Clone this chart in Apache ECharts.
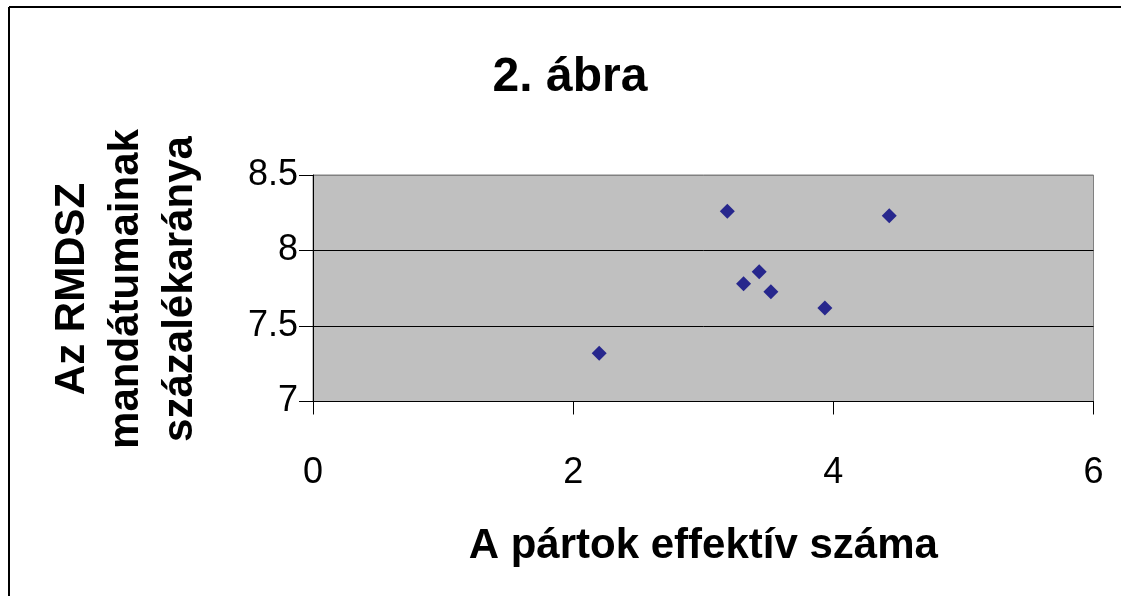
<!DOCTYPE html>
<html>
<head>
<meta charset="utf-8">
<script src="https://cdn.jsdelivr.net/npm/echarts@6/dist/echarts.min.js"></script>
<style>
  html, body { margin: 0; padding: 0; background: #fff; }
  #chart { width: 1121px; height: 596px; }
</style>
</head>
<body>
<div id="chart"></div>
<script>
// pontok: a pártok effektív száma / RMDSZ mandátumainak aránya
const partokSzama = [2.20, 3.185, 3.31, 3.43, 3.52, 3.935, 4.43]
const mandatumArany = [7.32, 8.26, 7.78, 7.86, 7.727, 7.62, 8.23]
const xTicks = [0, 2, 4, 6]
const yTicks = [7, 7.5, 8, 8.5]

const FONT = 'Liberation Sans, Arial, sans-serif'

var dom = document.getElementById('chart')
var myChart = echarts.init(dom, null, { renderer: 'canvas' })

let points = []
for (let i = 0; i < partokSzama.length; i++) {
    points.push([partokSzama[i], mandatumArany[i]])
}

var option = {
    backgroundColor: '#fff',
    animation: false,
    title: {
        text: '2. ábra',
        left: 570,
        top: 54,
        textAlign: 'center',
        padding: 0,
        textStyle: { fontFamily: FONT, fontSize: 48, fontWeight: 'bold', color: '#000' }
    },
    graphic: [
        // keret: csak a bal és a felső éle látszik
        {
            type: 'line',
            shape: { x1: 9, y1: 7, x2: 1121, y2: 7 },
            style: { stroke: '#000', lineWidth: 2 },
            silent: true
        },
        {
            type: 'line',
            shape: { x1: 9, y1: 7, x2: 9, y2: 596 },
            style: { stroke: '#000', lineWidth: 2 },
            silent: true
        },
        {
            type: 'text',
            x: 126,
            y: 289,
            rotation: Math.PI / 2,
            style: {
                text: 'Az RMDSZ\nmandátumainak\nszázalékaránya',
                font: 'bold 42px ' + FONT,
                fill: '#000',
                textAlign: 'center',
                textVerticalAlign: 'middle',
                lineHeight: 54
            }
        }
    ],
    grid: {
        left: 313,
        top: 175,
        right: 27.5,
        bottom: 194.5,
        show: true,
        backgroundColor: '#c0c0c0',
        borderColor: '#808080',
        borderWidth: 1
    },
    xAxis: {
        type: 'value',
        min: xTicks[0],
        max: xTicks[xTicks.length - 1],
        interval: 2,
        name: 'A pártok effektív száma',
        nameLocation: 'middle',
        nameGap: 124,
        nameTextStyle: { fontFamily: FONT, fontSize: 42, fontWeight: 'bold', color: '#000' },
        axisLine: { show: true, onZero: false, lineStyle: { color: '#000', width: 1 } },
        axisTick: { show: true, length: 13, lineStyle: { color: '#000' } },
        axisLabel: { margin: 54, fontFamily: FONT, fontSize: 36, color: '#000' },
        splitLine: { show: false }
    },
    yAxis: {
        type: 'value',
        min: yTicks[0],
        max: yTicks[yTicks.length - 1],
        interval: 0.5,
        axisLine: { show: true, onZero: false, lineStyle: { color: '#000', width: 1 } },
        axisTick: { show: true, length: 14, lineStyle: { color: '#000' } },
        axisLabel: { margin: 15, fontFamily: FONT, fontSize: 36, color: '#000', padding: [10, 0, 0, 0] },
        splitLine: { show: true, lineStyle: { color: ['#000', '#000', '#000', '#808080'], width: 1 } }
    },
    series: [
        {
            type: 'scatter',
            data: points,
            symbol: 'diamond',
            symbolSize: 15,
            itemStyle: { color: '#000080' }
        }
    ]
}

myChart.setOption(option)
window.addEventListener('resize', myChart.resize)
</script>
</body>
</html>
